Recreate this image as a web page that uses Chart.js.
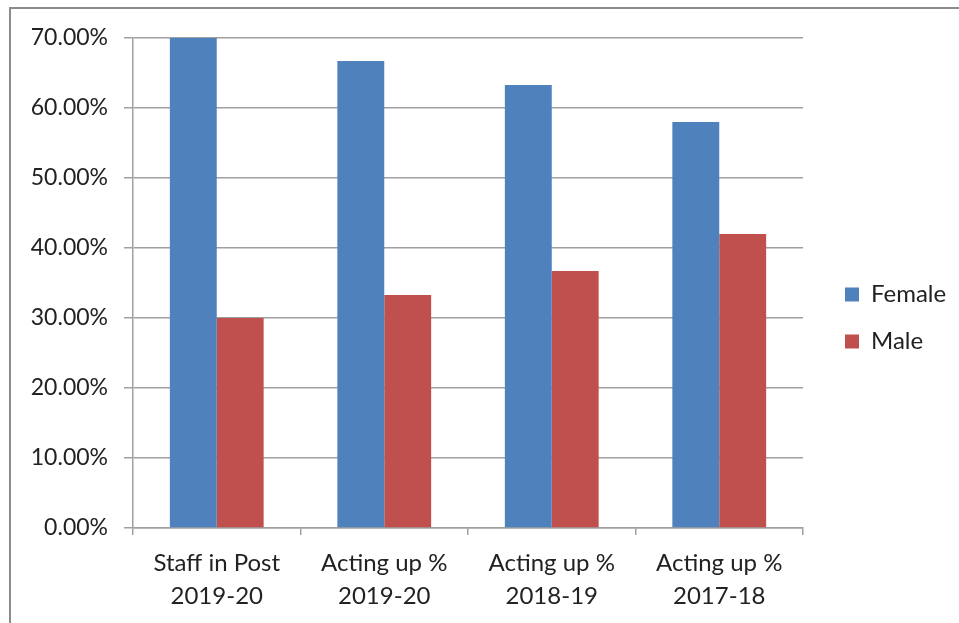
<!DOCTYPE html>
<html>
<head>
<meta charset="utf-8">
<script src="https://cdn.jsdelivr.net/npm/chart.js@4"></script>
<style>
  html, body { margin: 0; padding: 0; background: #fff; overflow: hidden; }
  #frame { position: absolute; left: 9px; top: 7px; width: 1000px; height: 700px; border: 2px solid #8c8c8c; }
  #wrap { position: absolute; left: 0; top: 0; width: 959px; height: 623px; }
</style>
</head>
<body>
<div id="frame"></div>
<div id="wrap"><canvas id="chart"></canvas></div>
<script>
// Kategorien und Werte (in %)
const categories = [
  ['Staff in Post', '2019-20'],
  ['Acting up %', '2019-20'],
  ['Acting up %', '2018-19'],
  ['Acting up %', '2017-18']
];
const female = [70.0, 66.7, 63.3, 58.0];
const male = [30.0, 33.3, 36.7, 42.0];
const yTicks = [0, 10, 20, 30, 40, 50, 60, 70];

const gridGrey = '#a0a0a0';
const textCol = '#222';

// Legende fest breit machen und etwas hoeher setzen, damit sie wie im Original sitzt
const legendPlace = {
  id: 'legendPlace',
  afterInit(chart) {
    const lg = chart.legend;
    const fit = lg.fit.bind(lg);
    lg.fit = function () {
      fit();
      this.width = 137;
    };
  },
  afterLayout(chart) {
    chart.legend.bottom = chart.height - 25;
  }
};

new Chart(document.getElementById('chart'), {
  type: 'bar',
  data: {
    labels: categories,
    datasets: [
      { label: 'Female', data: female, backgroundColor: '#4F81BD', categoryPercentage: 0.56, barPercentage: 1.0 },
      { label: 'Male', data: male, backgroundColor: '#C0504D', categoryPercentage: 0.56, barPercentage: 1.0 }
    ]
  },
  options: {
    responsive: true,
    maintainAspectRatio: false,
    animation: false,
    layout: { padding: { top: 38, left: 0, right: 0, bottom: 0 } },
    scales: {
      x: {
        grid: { drawOnChartArea: false, drawTicks: true, tickLength: 7, color: gridGrey, lineWidth: 1.5 },
        border: { color: gridGrey, width: 1.5 },
        ticks: { color: textCol, font: { family: 'Lato', size: 24, lineHeight: 1.4 }, padding: 11, maxRotation: 0 },
        afterFit: s => { s.height = 95; }
      },
      y: {
        min: 0,
        max: 70,
        afterBuildTicks: s => { s.ticks = yTicks.map(v => ({ value: v })); },
        grid: { color: gridGrey, lineWidth: 1.5, tickLength: 9 },
        border: { color: gridGrey, width: 1.5 },
        ticks: { color: textCol, font: { family: 'Lato', size: 23 }, padding: 16, callback: v => v.toFixed(2) + '%' },
        afterFit: s => { s.width = 133; }
      },
      y2: {
        position: 'right',
        display: true,
        grid: { display: false },
        border: { display: false },
        ticks: { display: false },
        afterFit: s => { s.width = 19; }
      }
    },
    plugins: {
      legend: {
        position: 'right',
        align: 'center',
        labels: { boxWidth: 14, boxHeight: 14, padding: 23, color: textCol, font: { family: 'Lato', size: 24 } }
      },
      tooltip: { enabled: false }
    }
  },
  plugins: [legendPlace]
});
</script>
</body>
</html>
